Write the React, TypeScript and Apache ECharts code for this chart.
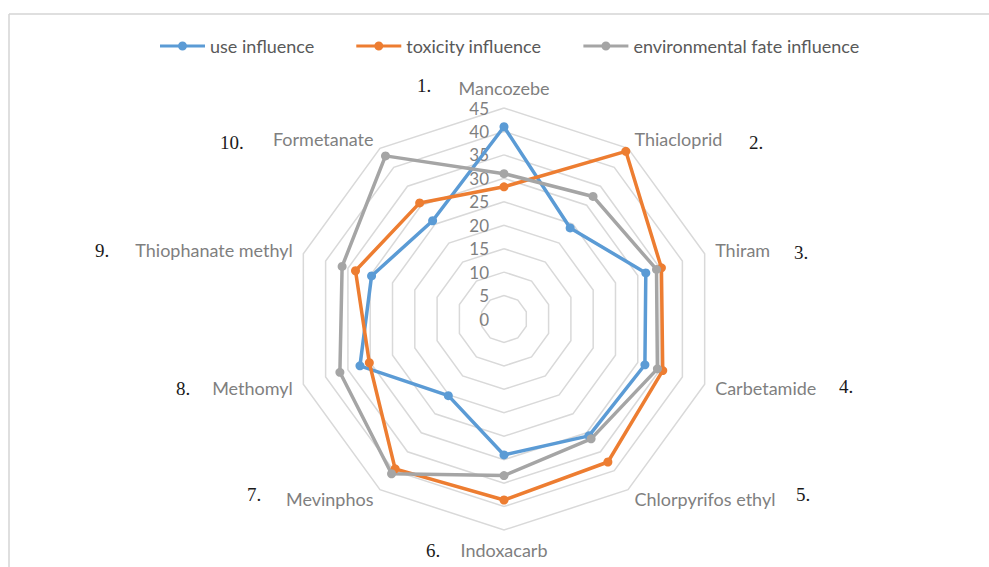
import React, { useEffect, useRef } from "react";
import * as echarts from "echarts";

const indicators = [
  "Mancozebe",
  "Thiacloprid",
  "Thiram",
  "Carbetamide",
  "Chlorpyrifos ethyl",
  "Indoxacarb",
  "Mevinphos",
  "Methomyl",
  "Thiophanate methyl",
  "Formetanate",
];
const useInfluence = [41, 24, 31.8, 31.6, 30.8, 29, 20.2, 32.3, 29.7, 25.9];
const toxicityInfluence = [28.2, 44.2, 35.3, 35.6, 37.7, 38.6, 39.5, 30.2, 33.3, 30.6];
const envFateInfluence = [31, 32.3, 34.2, 34.4, 31.6, 33.4, 40.8, 36.8, 36.3, 43];
const seriesNames = ["use influence", "toxicity influence", "environmental fate influence"];
const numberLabels = ["1.", "2.", "3.", "4.", "5.", "6.", "7.", "8.", "9.", "10."];
const numberPos: [number, number][] = [
  [417, 85], [749, 142], [794, 252], [839, 386], [796, 494],
  [426, 550], [247, 494], [176, 388], [95, 250], [220, 142],
];

// ECharts draws radar indicators counter-clockwise; the reference goes clockwise.
const order = indicators.map((_, i) => (i === 0 ? 0 : indicators.length - i));

const legendIcon =
  "path://M0,3.5 H45 V6.5 H0 Z M22.5,0.5 A4.5,4.5 0 1,1 22.5,9.5 A4.5,4.5 0 1,1 22.5,0.5 Z";

export default function App() {
  const ref = useRef<HTMLDivElement>(null);
  useEffect(() => {
    if (!ref.current) return;
    const chart = echarts.init(ref.current, null, { renderer: "svg" });
    const colors = ["#5b9bd5", "#ed7d31", "#a5a5a5"];
    const datas = [useInfluence, toxicityInfluence, envFateInfluence];
    chart.setOption({
      animation: false,
      backgroundColor: "#fff",
      color: colors,
      legend: {
        top: 32,
        left: 155,
        itemWidth: 45,
        itemHeight: 10,
        itemGap: 42,
        icon: legendIcon,
        textStyle: { fontFamily: "Lato", fontSize: 18, color: "#595959" },
        data: seriesNames,
      },
      radar: {
        center: [504, 319],
        radius: 211,
        startAngle: 90,
        shape: "polygon",
        splitNumber: 9,
        nameGap: 11,
        axisName: { color: "#7f7f7f", fontFamily: "Lato", fontSize: 18 },
        indicator: order.map((k, i) =>
          i === 0
            ? { name: indicators[k], min: 0, max: 45, axisLabel: { show: true } }
            : { name: indicators[k], min: 0, max: 45 }
        ),
        axisLine: { show: false },
        axisTick: { show: false },
        axisLabel: {
          show: false,
          color: "#7f7f7f",
          fontFamily: "Lato",
          fontSize: 17,
          margin: 15,
        },
        splitLine: { lineStyle: { color: "#d9d9d9", width: 1.5 } },
        splitArea: { show: false },
      },
      graphic: [
        {
          type: "line",
          shape: { x1: 9, y1: 14, x2: 989, y2: 14 },
          style: { stroke: "#d4d4d4", lineWidth: 1.5 },
        },
        {
          type: "line",
          shape: { x1: 9, y1: 14, x2: 9, y2: 567 },
          style: { stroke: "#d4d4d4", lineWidth: 1.5 },
        },
        ...numberLabels.map((t, i) => ({
          type: "text",
          x: numberPos[i][0],
          y: numberPos[i][1],
          style: {
            text: t,
            fill: "#1a1a1a",
            font: '19px "Liberation Serif"',
            verticalAlign: "middle",
          },
        })),
      ],
      series: [
        {
          type: "radar",
          symbol: "circle",
          symbolSize: 9,
          lineStyle: { width: 3.5 },
          data: datas.map((d, i) => ({
            name: seriesNames[i],
            value: order.map((k) => d[k]),
            itemStyle: { color: colors[i] },
            lineStyle: { color: colors[i], width: 3.5 },
          })),
        },
      ],
    });
    return () => chart.dispose();
  }, []);
  return (
    <div
      ref={ref}
      style={{ position: "fixed", left: 0, top: 0, width: 989, height: 567 }}
    />
  );
}
